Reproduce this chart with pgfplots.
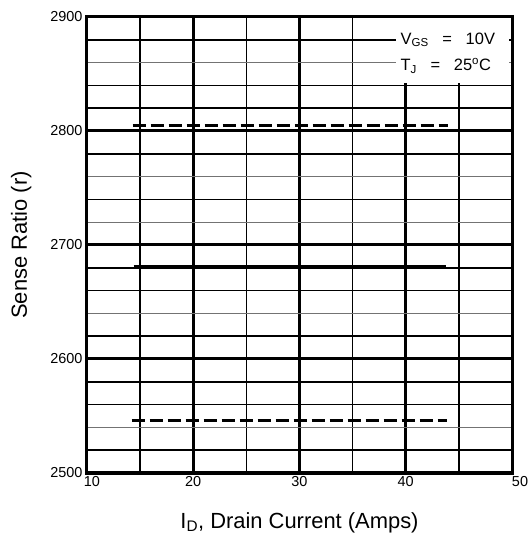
\documentclass[border=0pt]{standalone}
\usepackage{fontspec}
\setmainfont{Liberation Sans}
\usepackage{pgfplots}
\pgfplotsset{compat=1.18}
\begin{document}
\begin{tikzpicture}[x=1bp,y=1bp]
\begin{axis}[
  name=ax,
  scale only axis,
  width=425bp, height=456bp,
  xmin=10, xmax=50, ymin=2500, ymax=2900,
  xtick={10,20,30,40,50},
  xticklabels={\hspace{10bp}10,20,30,40,\hspace{16bp}50},
  ytick={2500,2600,2700,2800,2900},
  minor xtick={15,25,35,45},
  minor ytick={2520,2560,2580,2620,2660,2680,2740,2780,2820,2840,2880},
  extra y ticks={2540,2640,2720,2760,2860},
  extra y tick labels={},
  extra y tick style={grid=major, major grid style={black!55, line width=1.3bp}, major tick length=0pt},
  grid=both,
  major grid style={black, line width=3bp},
  minor grid style={black, line width=1.7bp},
  major tick length=0pt, minor tick length=0pt,
  axis line style={black, line width=3bp},
  tick label style={font=\fontsize{14.5}{16}\selectfont},
  /pgf/number format/assume math mode=true,
  /pgf/number format/1000 sep={},
  yticklabel style={xshift=-1bp},
  xlabel={I\textsubscript{D}, Drain Current (Amps)},
  ylabel={Sense Ratio (r)},
  label style={font=\fontsize{22}{24}\selectfont},
  xlabel shift=19bp,
  ylabel shift=12bp,
  clip=false,
]
\fill[white] (axis cs:39.1,2842) rectangle (axis cs:49.75,2898.7);
\addplot[black, line width=3.5bp, dash pattern=on 13bp off 5bp] coordinates {(14.3,2805) (44.0,2805)};
\addplot[black, line width=3.5bp] coordinates {(14.4,2681) (43.8,2681)};
\addplot[black, line width=3.5bp, dash pattern=on 13bp off 5bp] coordinates {(14.2,2546) (43.9,2546)};
\draw[black, line width=3bp] (rel axis cs:0,0) rectangle (rel axis cs:1,1);
\node[anchor=west, font=\fontsize{16.5}{18}\selectfont, inner sep=0pt] at (axis cs:39.5,2880) {V\textsubscript{GS} \ \ = \ \ 10V};
\node[anchor=west, font=\fontsize{16.5}{18}\selectfont, inner sep=0pt] at (axis cs:39.5,2857) {T\textsubscript{J} \ \ = \ \ 25\textsuperscript{o}C};
\end{axis}
\pgfresetboundingbox
\path ([shift={(-87bp,-64bp)}]ax.south west) rectangle ([shift={(16bp,17bp)}]ax.north east);
\end{tikzpicture}
\end{document}
